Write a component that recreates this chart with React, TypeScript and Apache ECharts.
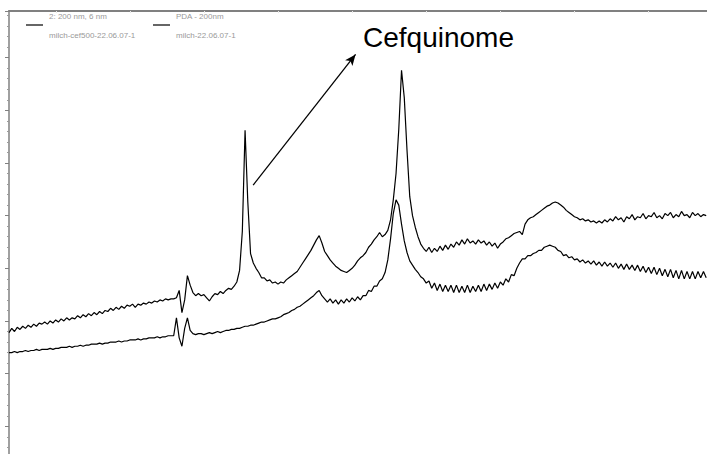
import React, { useEffect, useRef } from "react";
import * as echarts from "echarts";

// Detector / sample labels shown in the legend
const detectorLabels = ["2: 200 nm, 6 nm", "PDA - 200nm"];
const sampleNames = ["milch-cef500-22.06.07-1", "milch-22.06.07-1"];
const peakLabel = "Cefquinome";

// Time base (min): first sample and sampling step
const T0 = 0.366;
const DT = 0.0371;
const X_MAX = 9.8;
const xTickValues = [1, 2, 3, 4, 5, 6, 7, 8, 9];

// Absorbance (mAU) of the spiked milk sample (cefquinome 500)
const spikedSignal = [
  89, 93, 90, 94, 92, 95, 93, 96, 94, 97,
  95, 98, 97, 99, 97, 100, 98, 101, 99, 102,
  100, 103, 101, 103, 102, 105, 103, 106, 104, 107,
  105, 108, 106, 109, 107, 110, 109, 112, 110, 113,
  111, 114, 112, 115, 114, 116, 113, 116, 115, 117,
  116, 118, 117, 119, 118, 120, 119, 121, 120, 121,
  121, 122, 129, 108, 120, 143, 134, 127, 124, 126,
  124, 125, 122, 119, 123, 126, 125, 128, 126, 129,
  131, 130, 133, 137, 148, 185, 281, 213, 164, 155,
  150, 146, 141, 141, 138, 139, 136, 137, 135, 137,
  136, 139, 141, 143, 145, 147, 151, 155, 159, 163,
  167, 172, 177, 181, 174, 166, 162, 158, 155, 152,
  150, 148, 147, 146, 148, 150, 153, 157, 160, 162,
  165, 170, 173, 177, 180, 184, 180, 182, 186, 196,
  215, 240, 282, 338, 312, 262, 218, 200, 189, 180,
  173, 169, 166, 170, 165, 169, 166, 171, 167, 172,
  168, 173, 170, 175, 172, 177, 173, 178, 174, 176,
  173, 177, 174, 176, 172, 175, 171, 174, 169, 173,
  175, 178, 179, 181, 183, 184, 185, 182, 192, 196,
  198, 199, 201, 203, 205, 207, 209, 210, 212, 213,
  212, 210, 208, 205, 203, 201, 199, 198, 196, 197,
  195, 196, 194, 195, 193, 195, 193, 196, 194, 197,
  195, 199, 196, 198, 194, 199, 197, 201, 196, 199,
  198, 202, 197, 200, 199, 203, 198, 200, 197, 202,
  200, 203, 198, 201, 199, 204, 200, 201, 198, 203,
  200, 202, 199, 201, 200,
];

// Absorbance (mAU) of the blank milk sample
const blankSignal = [
  70, 70, 71, 70, 71, 71, 72, 71, 72, 72,
  73, 72, 73, 73, 73, 74, 73, 74, 74, 75,
  75, 75, 76, 75, 76, 76, 77, 76, 77, 77,
  78, 78, 78, 79, 78, 79, 79, 80, 80, 80,
  81, 80, 81, 81, 82, 82, 82, 83, 82, 83,
  83, 84, 84, 84, 85, 84, 85, 85, 86, 86,
  86, 103, 84, 76, 93, 103, 91, 88, 87, 88,
  88, 87, 88, 89, 88, 89, 90, 89, 90, 91,
  91, 92, 92, 93, 93, 94, 95, 95, 96, 96,
  97, 98, 99, 99, 100, 101, 102, 102, 103, 104,
  106, 107, 108, 110, 111, 113, 114, 116, 118, 120,
  122, 124, 127, 129, 124, 121, 118, 121, 117, 120,
  116, 120, 117, 121, 118, 122, 119, 123, 120, 124,
  124, 129, 128, 133, 133, 138, 140, 146, 158, 178,
  202, 215, 210, 192, 176, 165, 157, 153, 149, 146,
  142, 140, 136, 138, 131, 136, 129, 135, 128, 134,
  128, 134, 127, 134, 127, 133, 127, 134, 127, 133,
  128, 134, 128, 135, 129, 135, 130, 136, 131, 137,
  134, 140, 137, 144, 143, 150, 155, 159, 159, 162,
  162, 164, 165, 167, 167, 170, 171, 172, 171, 170,
  167, 166, 162, 163, 160, 161, 158, 159, 156, 158,
  155, 157, 154, 157, 153, 156, 152, 156, 152, 155,
  151, 155, 150, 154, 149, 154, 149, 153, 148, 153,
  147, 152, 146, 151, 145, 151, 144, 150, 143, 149,
  142, 149, 141, 148, 140, 148, 140, 147, 140, 147,
  140, 147, 141, 147, 141,
];

// Arrow from the cefquinome peak towards its label (min, mAU)
const arrowStart = [3.666, 229];
const arrowEnd = [5.05, 353];

const Y_MIN = -50;
const Y_MAX = 394.25;
const Y_INTERVAL = 50;

const toXY = (arr: number[]) => arr.map((v, i) => [T0 + i * DT, v]);

const FONT = "'Liberation Sans', Arial, sans-serif";
const LEGEND_COLOR = "#999999";

export default function App() {
  const ref = useRef<HTMLDivElement>(null);
  useEffect(() => {
    if (!ref.current) return;
    const chart = echarts.init(ref.current, null, { renderer: "svg" });

    const legendGraphics: any[] = [];
    const legendX = [26, 153];
    detectorLabels.forEach((lab, i) => {
      const x0 = legendX[i];
      legendGraphics.push({
        type: "line",
        silent: true,
        shape: { x1: x0, y1: 25, x2: x0 + 17, y2: 25 },
        style: { stroke: "#333333", lineWidth: 1.5 },
      });
      legendGraphics.push({
        type: "text",
        silent: true,
        x: x0 + 23,
        y: 16,
        style: { text: lab, fill: LEGEND_COLOR, fontSize: 8, fontFamily: FONT, verticalAlign: "middle" },
      });
      legendGraphics.push({
        type: "text",
        silent: true,
        x: x0 + 23,
        y: 35,
        style: { text: sampleNames[i], fill: LEGEND_COLOR, fontSize: 8, fontFamily: FONT, verticalAlign: "middle" },
      });
    });

    const option: any = {
      animation: false,
      backgroundColor: "#ffffff",
      textStyle: { fontFamily: FONT },
      grid: { left: 9, right: 0, top: 11, bottom: 0 },
      xAxis: {
        type: "value",
        position: "top",
        min: T0,
        max: X_MAX,
        axisLine: { show: true, onZero: false, lineStyle: { color: "#808080", width: 2 } },
        axisTick: {
          show: true,
          inside: true,
          length: 2,
          customValues: xTickValues,
          lineStyle: { color: "#e6e6e6", width: 1 },
        },
        axisLabel: { show: false },
        splitLine: { show: false },
      },
      yAxis: {
        type: "value",
        position: "left",
        min: Y_MIN,
        max: Y_MAX,
        interval: Y_INTERVAL,
        axisLine: { show: true, onZero: false, lineStyle: { color: "#808080", width: 1.5 } },
        axisTick: { show: true, inside: false, length: 4, lineStyle: { color: "#808080", width: 1 } },
        minorTick: { show: true, splitNumber: 5, length: 2, lineStyle: { color: "#9a9a9a", width: 1 } },
        axisLabel: { show: false },
        splitLine: { show: false },
      },
      series: [
        {
          name: sampleNames[0],
          type: "line",
          data: toXY(spikedSignal),
          showSymbol: false,
          symbol: "none",
          color: "#000000",
          lineStyle: { color: "#000000", width: 1.2 },
          silent: true,
          markLine: {
            silent: true,
            symbol: ["none", "arrow"],
            symbolSize: [7, 11],
            label: { show: false },
            lineStyle: { color: "#000000", width: 1.3, type: "solid" },
            emphasis: { disabled: true },
            data: [[{ coord: arrowStart }, { coord: arrowEnd }]],
          },
        },
        {
          name: sampleNames[1],
          type: "line",
          data: toXY(blankSignal),
          showSymbol: false,
          symbol: "none",
          color: "#000000",
          lineStyle: { color: "#000000", width: 1.2 },
          silent: true,
        },
      ],
      graphic: [
        ...legendGraphics,
        {
          type: "text",
          x: 363,
          y: 37,
          silent: true,
          style: {
            text: peakLabel,
            fill: "#000000",
            fontSize: 28,
            fontFamily: FONT,
            align: "left",
            verticalAlign: "middle",
          },
        },
      ],
    };
    chart.setOption(option);
    return () => chart.dispose();
  }, []);
  // The plot extends below the 454px window so the lowest tick (-50 mAU) sits just out of view.
  return (
    <div
      ref={ref}
      style={{ position: "fixed", left: 0, top: 0, width: 707, height: 478.6, background: "#fff" }}
    />
  );
}
